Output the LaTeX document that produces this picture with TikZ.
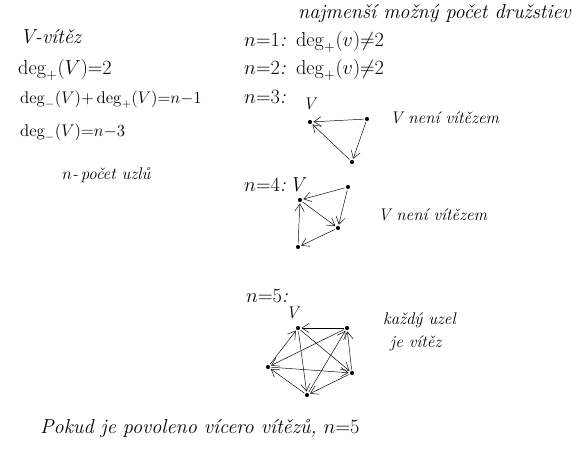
\documentclass[tikz,border=0pt]{standalone}
\usepackage{amsfonts,amssymb,amsmath}
\usepackage{xcolor}
\usetikzlibrary{arrows.meta}

\begin{document}
\begin{tikzpicture}[x=0.03cm,y=-0.03cm,>={Straight Barb[length=2.2mm,width=2.8mm]}]
\tikzset{vtx/.style={shape=circle,fill=black,inner sep=0pt,minimum size=3.5pt},
txt/.style={anchor=west,inner sep=0pt,font=\Large\itshape},
big/.style={txt,font=\LARGE\itshape},
edge/.style={->,thin,shorten >=1pt,shorten <=1pt}}
\useasboundingbox (0,0) rectangle (587,464);
% top line
\node[big,anchor=base west] (head) at (298,18) {najmenší možný počet družstiev};
% left column
\node[big] (win) at (20,37) {V-vítěz};
\node[big] (eqa) at (18,70) {$\deg_+(V){=}2$};
\node[txt] (eqb) at (20,100) {$\deg_-(V){+}\deg_+(V){=}n{-}1$};
\node[txt] (eqc) at (20,133) {$\deg_-(V){=}n{-}3$};
\node[txt] (cnt) at (62,175) {$n$-\,počet uzlů};
% right column
\node[big] (one) at (244,42) {$n{=}1$:\enspace$\deg_+(v){\neq}2$};
\node[big] (two) at (244,70) {$n{=}2$:\enspace$\deg_+(v){\neq}2$};
\node[big] (three) at (244,97) {$n{=}3$:};
% n=3
\node[vtx] (a3) at (310,122) {};
\node[vtx] (b3) at (367,119) {};
\node[vtx] (c3) at (352,162) {};
\node[txt] (v3) at (303,104) {V};
\draw[edge] (b3)--(a3);
\draw[edge] (c3)--(a3);
\draw[edge] (b3)--(c3);
\node[txt] (lose3) at (390,118) {V není vítězem};
% n=4
\node[big] (four) at (244,185) {$n{=}4$:\,V};
\node[vtx] (a4) at (300,200) {};
\node[vtx] (b4) at (348,187) {};
\node[vtx] (c4) at (338,228) {};
\node[vtx] (d4) at (298,247) {};
\draw[edge] (b4)--(a4);
\draw[edge] (b4)--(c4);
\draw[edge] (a4)--(c4);
\draw[edge] (c4)--(d4);
\draw[edge] (d4)--(a4);
\node[txt] (lose4) at (378,215) {V není vítězem};
% n=5
\node[big] (five) at (246,296) {$n{=}5$:};
\node[txt] (v5) at (286,313) {V};
\node[vtx] (t5) at (298,328) {};
\node[vtx] (r5) at (347,328) {};
\node[vtx] (s5) at (352,373) {};
\node[vtx] (u5) at (307,395) {};
\node[vtx] (l5) at (268,367) {};
\draw[edge] (r5)--(t5);
\draw[edge] (l5)--(t5);
\draw[edge] (t5)--(u5);
\draw[edge] (t5)--(s5);
\draw[edge] (r5)--(l5);
\draw[edge] (l5)--(s5);
\draw[edge] (u5)--(r5);
\draw[edge] (s5)--(r5);
\draw[edge] (s5)--(u5);
\draw[edge] (u5)--(l5);
\node[txt] (each) at (383,320) {každý uzel};
\node[txt] (isw) at (390,343) {je vítěz};
% bottom line
\node[big] (more) at (40,428) {Pokud je povoleno vícero vítězů, $n{=}5$};
\end{tikzpicture}
\end{document}
